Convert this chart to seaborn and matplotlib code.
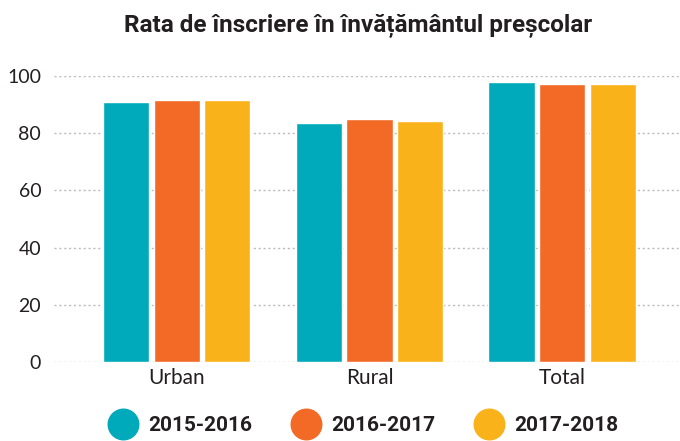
import matplotlib
matplotlib.use("Agg")
import matplotlib.pyplot as plt
from matplotlib.lines import Line2D
import seaborn as sns
import pandas as pd

categories = ["Urban", "Rural", "Total"]
years = ["2015-2016", "2016-2017", "2017-2018"]
rate_2015 = [90.7, 83.4, 97.7]
rate_2016 = [91.4, 84.8, 97.3]
rate_2017 = [91.4, 84.4, 97.3]
colors = ["#00AABB", "#F26A26", "#F9B21A"]

df = pd.DataFrame(
    {
        "area": categories * 3,
        "year": [years[0]] * 3 + [years[1]] * 3 + [years[2]] * 3,
        "rate": rate_2015 + rate_2016 + rate_2017,
    }
)

sns.set_style("white")
plt.rcParams["font.family"] = ["Lato", "DejaVu Sans"]

fig = plt.figure(figsize=(6.8, 4.41), dpi=100)
ax = fig.add_axes([0.079, 0.179, 0.921, 0.649])

sns.barplot(
    df,
    x="area",
    y="rate",
    hue="year",
    order=categories,
    hue_order=years,
    palette=colors,
    width=0.79,
    saturation=1,
    legend=False,
    ax=ax,
)

# leave small white gaps between bars
for p in ax.patches:
    w = p.get_width()
    p.set_x(p.get_x() + 0.012)
    p.set_width(w - 0.024)

ax.set_xlim(-0.637, 2.61)
ax.set_ylim(0, 100)
ax.set_yticks([0, 20, 40, 60, 80, 100])
ax.grid(axis="y", color="#BBBBBB", linestyle=(0, (1.5, 2)), linewidth=1)
ax.set_axisbelow(True)
for s in ax.spines.values():
    s.set_visible(False)
ax.tick_params(axis="both", length=0, colors="#231F20")
ax.tick_params(axis="y", pad=9, labelsize=14)
ax.tick_params(axis="x", pad=4, labelsize=15)
ax.set_xlabel("")
ax.set_ylabel("")

fig.text(
    0.527, 0.94, "Rata de înscriere în învățământul preșcolar",
    ha="center", va="center", fontsize=17.5, fontweight="bold",
    family=["Roboto", "DejaVu Sans"], color="#231F20",
)

handles = [
    Line2D([], [], marker="o", linestyle="", markersize=22,
           markerfacecolor=c, markeredgecolor=c)
    for c in colors
]
fig.legend(
    handles, years, loc="center", bbox_to_anchor=(0.53, 0.035), ncol=3,
    frameon=False, handletextpad=0.2, columnspacing=1.6,
    prop={"family": ["Roboto", "DejaVu Sans"], "weight": "bold", "size": 15},
    labelcolor="#231F20",
)

fig.savefig("out.png", dpi=100)
